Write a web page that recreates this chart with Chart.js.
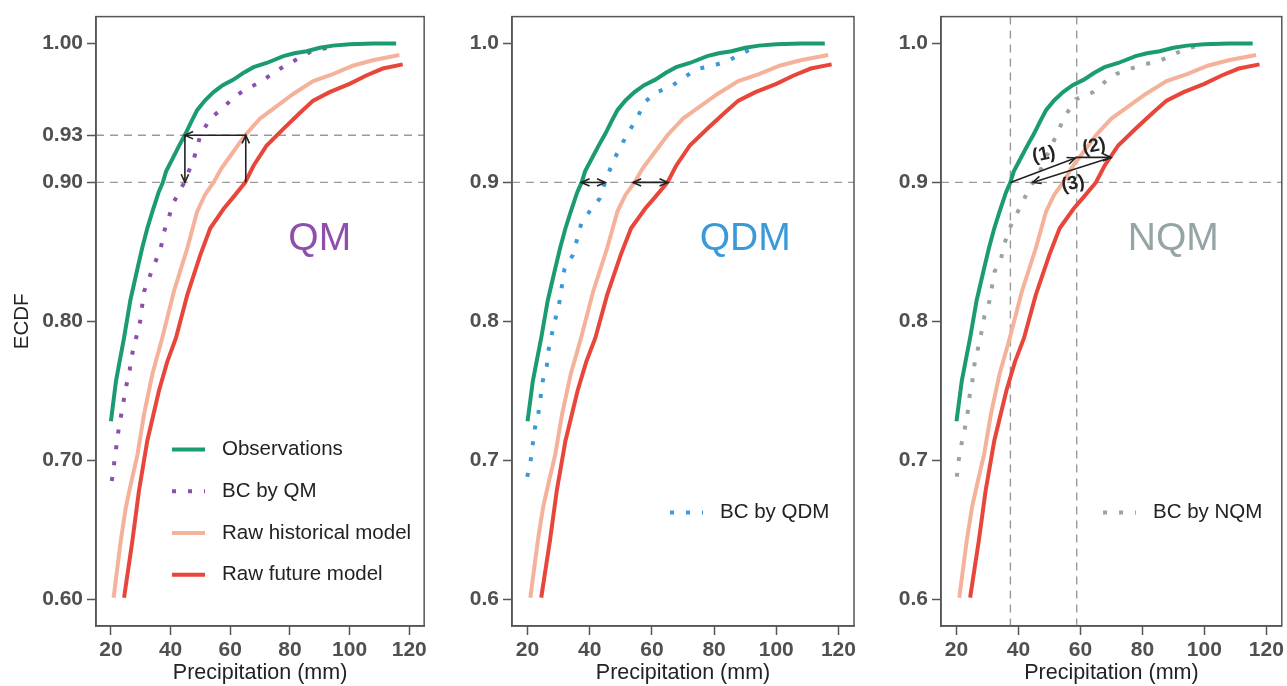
<!DOCTYPE html>
<html>
<head>
<meta charset="utf-8">
<script src="https://cdn.jsdelivr.net/npm/chart.js@4.4.1/dist/chart.umd.min.js"></script>
<style>
  body { margin: 0; background: #fff; width: 1287px; height: 686px; overflow: hidden; position: relative; }
  canvas { position: absolute; top: 0; }
</style>
</head>
<body>
<canvas id="chart-qm" width="430" height="686" style="left:0"></canvas>
<canvas id="chart-qdm" width="420" height="686" style="left:440px"></canvas>
<canvas id="chart-nqm" width="419" height="686" style="left:868px"></canvas>
<script>
// ECDF curves, [precipitation (mm), cumulative probability]
const observations = [[20,0.728],[21.7,0.757],[23,0.772],[24.4,0.788],[26.5,0.815],[28.9,0.838],[30.5,0.853],[32.2,0.867],[33.9,0.879],[36,0.893],[37.4,0.9],[38.5,0.908],[41.1,0.919],[43,0.927],[45,0.935],[47,0.944],[48.9,0.952],[51.5,0.959],[54.4,0.965],[57.5,0.97],[61.1,0.974],[64.5,0.979],[67.8,0.983],[72.2,0.986],[77.8,0.991],[81.5,0.993],[85.6,0.9945],[90,0.997],[94.4,0.9985],[100,0.9995],[108,1.0],[115.6,1.0]];
const rawHistorical = [[20.9,0.601],[23.3,0.642],[25,0.666],[26.9,0.685],[28.9,0.704],[31.1,0.733],[33.9,0.762],[37.2,0.788],[41.1,0.8215],[45.6,0.8526],[48.9,0.879],[51.5,0.891],[54.4,0.9],[57,0.91],[60,0.919],[65,0.934],[70,0.946],[75.6,0.955],[81.1,0.9637],[87.8,0.973],[94.4,0.978],[101.1,0.984],[107.8,0.988],[116.7,0.9917]];
const rawFuture = [[24.4,0.601],[27.2,0.642],[29.4,0.678],[32.2,0.714],[36.1,0.75],[38.9,0.771],[41.8,0.788],[45.6,0.819],[50,0.848],[53.3,0.867],[57.8,0.881],[61.1,0.8896],[65,0.9],[67.8,0.912],[72.2,0.9266],[77.8,0.9386],[83.3,0.95],[87.8,0.9589],[93.3,0.965],[100,0.971],[105.6,0.977],[111.1,0.982],[117.8,0.985]];
const bcQM = [[20.3,0.685],[21.7,0.708],[22.4,0.7195],[24.2,0.742],[25.2,0.754],[26.3,0.765],[27.2,0.777],[29.8,0.8],[31.1,0.8215],[33.3,0.834],[36.7,0.8526],[37.8,0.8645],[41.1,0.886],[44.6,0.9],[47.8,0.917],[50,0.934],[53.3,0.946],[57.2,0.953],[61.1,0.961],[65,0.967],[70,0.972],[73.9,0.978],[78.3,0.984],[82.2,0.9885],[87.2,0.9945],[92.8,0.997]];
const bcQDM = [[19.9,0.688],[21,0.6996],[22.3,0.7224],[23.5,0.734],[24.9,0.757],[26.2,0.768],[26.8,0.78],[27.9,0.7916],[30.3,0.8143],[31.9,0.838],[34.6,0.8478],[37.3,0.8705],[39.9,0.8789],[43.2,0.8884],[44.9,0.9],[46.4,0.9087],[48.5,0.9195],[50.7,0.929],[52.8,0.9374],[55.4,0.947],[57.6,0.9577],[61.4,0.9649],[65.7,0.9685],[70,0.975],[74.3,0.9816],[79.6,0.984],[84.4,0.9875],[88.6,0.9924],[92.9,0.997]];
const bcNQM = [[20.1,0.688],[20.7,0.7],[21.6,0.7116],[22.7,0.723],[23.6,0.734],[24.2,0.7457],[25.1,0.757],[25.8,0.769],[26.9,0.78],[28,0.7916],[29,0.8036],[30.6,0.8143],[32.3,0.8358],[34.4,0.8454],[35.7,0.8573],[37.1,0.8669],[39.8,0.8789],[43.5,0.8956],[46.8,0.9075],[49.5,0.9207],[52.2,0.9338],[54.8,0.947],[58.6,0.96],[64,0.9649],[67.7,0.972],[71.5,0.978],[75.8,0.9816],[80.6,0.985],[85.5,0.9875],[89.8,0.9917],[93.5,0.996],[98.4,0.9985]];

// axis ticks
const xTicks = [20, 40, 60, 80, 100, 120];
const yTicksQM = [0.6, 0.7, 0.8, 0.9, 0.934, 1.0];
const yTicks = [0.6, 0.7, 0.8, 0.9, 1.0];

// reference lines and arrows (data units)
const qmLevels = [0.934, 0.9];
const qmArrows = [[65.2, 0.9, 65.2, 0.934], [65.2, 0.934, 44.8, 0.934], [44.8, 0.934, 44.8, 0.9]];
const qdmArrows = [[37.3, 0.9, 45.0, 0.9], [53.9, 0.9, 65.1, 0.9]];
const nqmQuantiles = [37.4, 58.8];
const nqmArrows = [[37.4, 0.9, 58.4, 0.9176], [58.4, 0.918, 69.9, 0.918], [69.9, 0.918, 44.6, 0.9]];
const nqmSteps = [["(1)", 48.2, 0.92], ["(2)", 64.4, 0.926], ["(3)", 57.6, 0.899]];

const FONT = "'Liberation Sans', Arial, Helvetica, sans-serif";
Chart.defaults.font.family = FONT;

const GREEN = '#1b9b72', SALMON = '#f5b29b', RED = '#e8463a';
const PURPLE = '#8e4fab', BLUE = '#3a9ad9', GREY = '#95a5a6';

function toXY(arr) { return arr.map(p => ({ x: p[0], y: p[1] })); }

function solid(label, data, color) {
  return { label, data: toXY(data), borderColor: color, borderWidth: 4, pointRadius: 0, tension: 0, fill: false };
}
function dotted(label, data, color) {
  return { label, data: toXY(data), borderColor: color, borderWidth: 4, borderDash: [4, 12], borderCapStyle: 'butt', pointRadius: 0, tension: 0, fill: false };
}

function arrowHead(ctx, x, y, ang) {
  const L = 9, a = 0.42;
  ctx.beginPath();
  ctx.moveTo(x - L * Math.cos(ang - a), y - L * Math.sin(ang - a));
  ctx.lineTo(x, y);
  ctx.lineTo(x - L * Math.cos(ang + a), y - L * Math.sin(ang + a));
  ctx.stroke();
}

// box, dashed reference lines
const framePlugin = {
  id: 'frame',
  beforeDatasetsDraw(chart, args, opts) {
    const { ctx, chartArea: a, scales } = chart;
    ctx.save();
    ctx.strokeStyle = '#9a9a9a';
    ctx.lineWidth = 1.4;
    ctx.setLineDash([8, 6]);
    (opts.h || []).forEach(v => {
      const y = scales.y.getPixelForValue(v);
      ctx.beginPath(); ctx.moveTo(a.left, y); ctx.lineTo(a.right, y); ctx.stroke();
    });
    (opts.v || []).forEach(v => {
      const x = scales.x.getPixelForValue(v);
      ctx.beginPath(); ctx.moveTo(x, a.top); ctx.lineTo(x, a.bottom); ctx.stroke();
    });
    ctx.restore();
  },
  afterDraw(chart) {
    const { ctx, chartArea: a } = chart;
    ctx.save();
    ctx.strokeStyle = '#555';
    ctx.lineWidth = 1.5;
    ctx.strokeRect(a.left, a.top, a.right - a.left, a.bottom - a.top);
    ctx.restore();
  }
};

// arrows, method name and step labels
const notesPlugin = {
  id: 'notes',
  afterDatasetsDraw(chart, args, opts) {
    const { ctx, scales } = chart;
    const px = v => scales.x.getPixelForValue(v);
    const py = v => scales.y.getPixelForValue(v);
    ctx.save();
    ctx.strokeStyle = '#222';
    ctx.lineWidth = 1.6;
    (opts.arrows || []).forEach(a => {
      const x1 = px(a[0]), y1 = py(a[1]), x2 = px(a[2]), y2 = py(a[3]);
      ctx.beginPath(); ctx.moveTo(x1, y1); ctx.lineTo(x2, y2); ctx.stroke();
      const ang = Math.atan2(y2 - y1, x2 - x1);
      arrowHead(ctx, x2, y2, ang);
      if (opts.both) arrowHead(ctx, x1, y1, ang + Math.PI);
    });
    ctx.fillStyle = '#222';
    ctx.font = 'bold 19px ' + FONT;
    ctx.textAlign = 'center';
    ctx.textBaseline = 'middle';
    (opts.steps || []).forEach(s => {
      ctx.save();
      ctx.translate(px(s[1]), py(s[2]));
      ctx.rotate(-0.2);
      ctx.fillText(s[0], 0, 0);
      ctx.restore();
    });
    if (opts.title) {
      ctx.fillStyle = opts.titleColor;
      ctx.font = '39px ' + FONT;
      ctx.fillText(opts.title, px(90), py(0.859));
    }
    ctx.restore();
  }
};

// legend drawn inside the plot area
const insetLegendPlugin = {
  id: 'insetLegend',
  afterDraw(chart, args, opts) {
    const { ctx, chartArea: a } = chart;
    ctx.save();
    ctx.font = '20.5px ' + FONT;
    ctx.textBaseline = 'middle';
    ctx.textAlign = 'left';
    (opts.items || []).forEach((i, k) => {
      const ds = chart.data.datasets[i];
      const x = a.left + opts.dx, y = a.top + opts.dy + k * 41.7;
      ctx.strokeStyle = ds.borderColor;
      ctx.lineWidth = ds.borderWidth;
      ctx.lineCap = 'butt';
      ctx.setLineDash(ds.borderDash || []);
      ctx.beginPath(); ctx.moveTo(x, y); ctx.lineTo(x + 33, y); ctx.stroke();
      ctx.setLineDash([]);
      ctx.fillStyle = '#222';
      ctx.fillText(ds.label, x + 50, y);
    });
    ctx.restore();
  }
};

function makeChart(id, datasets, opt) {
  return new Chart(document.getElementById(id), {
    type: 'line',
    data: { datasets },
    plugins: [framePlugin, notesPlugin, insetLegendPlugin],
    options: {
      responsive: false,
      animation: false,
      layout: { padding: { left: 0, top: 14, right: opt.padRight, bottom: 0 } },
      plugins: {
        legend: { display: false },
        tooltip: { enabled: false },
        frame: { h: opt.h, v: opt.v },
        notes: opt.notes,
        insetLegend: opt.legend
      },
      scales: {
        x: {
          type: 'linear', min: 15, max: 125,
          afterBuildTicks: s => { s.ticks = xTicks.map(v => ({ value: v })); },
          afterFit: s => { s.height = 60; },
          grid: { drawOnChartArea: false, color: '#555', tickLength: 9, tickWidth: 1.5 },
          border: { color: '#555', width: 1.5 },
          ticks: { color: '#505050', font: { size: 21, weight: 'bold' }, padding: 3, maxRotation: 0, autoSkip: false },
          title: { display: true, text: 'Precipitation (mm)', color: '#222', font: { size: 21.5 }, padding: { top: 0, bottom: 0 } }
        },
        y: {
          type: 'linear', min: 0.5806, max: 1.0194,
          afterBuildTicks: s => { s.ticks = opt.yTicks.map(v => ({ value: v })); },
          afterFit: s => { s.width = opt.yWidth; },
          grid: { drawOnChartArea: false, color: '#555', tickLength: 9, tickWidth: 1.5 },
          border: { color: '#555', width: 1.5 },
          ticks: { color: '#505050', font: { size: 21, weight: 'bold' }, padding: 4, autoSkip: false,
                   callback: v => v.toFixed(opt.digits) },
          title: { display: !!opt.yTitle, text: opt.yTitle || '', color: '#222', font: { size: 20.5 }, padding: { top: 10, bottom: 0 } }
        }
      }
    }
  });
}

makeChart('chart-qm', [
  solid('Observations', observations, GREEN),
  dotted('BC by QM', bcQM, PURPLE),
  solid('Raw historical model', rawHistorical, SALMON),
  solid('Raw future model', rawFuture, RED)
], {
  yTicks: yTicksQM, digits: 2, yWidth: 96, padRight: 5, yTitle: 'ECDF',
  h: qmLevels,
  notes: { arrows: qmArrows, title: 'QM', titleColor: PURPLE },
  legend: { items: [0, 1, 2, 3], dx: 76, dy: 433 }
});

makeChart('chart-qdm', [
  solid('Observations', observations, GREEN),
  dotted('BC by QDM', bcQDM, BLUE),
  solid('Raw historical model', rawHistorical, SALMON),
  solid('Raw future model', rawFuture, RED)
], {
  yTicks: yTicks, digits: 1, yWidth: 72, padRight: 6,
  h: [0.9],
  notes: { arrows: qdmArrows, both: true, title: 'QDM', titleColor: BLUE },
  legend: { items: [1], dx: 158, dy: 496 }
});

makeChart('chart-nqm', [
  solid('Observations', observations, GREEN),
  dotted('BC by NQM', bcNQM, GREY),
  solid('Raw historical model', rawHistorical, SALMON),
  solid('Raw future model', rawFuture, RED)
], {
  yTicks: yTicks, digits: 1, yWidth: 73, padRight: 4,
  h: [0.9], v: nqmQuantiles,
  notes: { arrows: nqmArrows, steps: nqmSteps, title: 'NQM', titleColor: GREY },
  legend: { items: [1], dx: 162, dy: 496 }
});
</script>
</body>
</html>
